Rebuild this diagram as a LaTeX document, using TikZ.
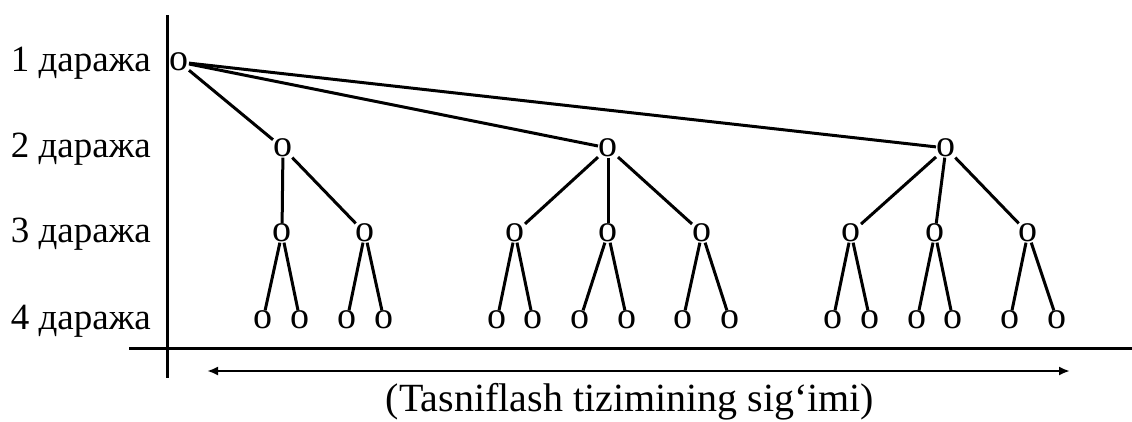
\documentclass[tikz,border=0pt]{standalone}
\usepackage{fontspec}
\setmainfont{Liberation Serif}
\usetikzlibrary{arrows.meta}
\tikzset{
  v/.style={inner sep=0pt, outer sep=0.5pt, font=\fontsize{38}{42}\selectfont},
  lab/.style={anchor=base east, inner sep=0pt, font=\fontsize{37}{42}\selectfont},
  edge/.style={line width=3pt},
  axis/.style={line width=3pt},
}
\begin{document}
\begin{tikzpicture}[x=1pt,y=-1pt]
\useasboundingbox (0,0) rectangle (1132,421);
% axes
\coordinate (vt) at (167,15);
\coordinate (vb) at (167,378);
\coordinate (hl) at (129,348);
\coordinate (hr) at (1132,348);
\draw[axis] (vt) -- (vb);
\draw[axis] (hl) -- (hr);
\coordinate (al) at (207,371);
\coordinate (ar) at (1070,371);
\draw[line width=2.8pt, {Latex[length=11pt,width=9pt]}-{Latex[length=11pt,width=9pt]}] (al) -- (ar);
% labels
\node[lab] (l1) at (151,71) {1 даража};
\node[lab] (l2) at (151,157) {2 даража};
\node[lab] (l3) at (151,242) {3 даража};
\node[lab] (l4) at (151,329) {4 даража};
\node[anchor=base, inner sep=0pt, font=\fontsize{40}{44}\selectfont] (cap) at (630,411) {(Tasniflash tizimining sig‘imi)};
% level 1
\node[v] (r) at (179,62) {o};
% level 2
\node[v] (a) at (283,148) {o};
\node[v] (b) at (608,148) {o};
\node[v] (c) at (946,148) {o};
% level 3
\node[v] (a1) at (282,233) {o};
\node[v] (a2) at (365,233) {o};
\node[v] (b1) at (515,233) {o};
\node[v] (b2) at (608,233) {o};
\node[v] (b3) at (702,233) {o};
\node[v] (c1) at (851,233) {o};
\node[v] (c2) at (935,233) {o};
\node[v] (c3) at (1028,233) {o};
% level 4
\foreach \n/\x in {a11/263,a12/300,a21/347,a22/384,b11/497,b12/533,b21/580,b22/627,b31/683,b32/730,c11/833,c12/870,c21/917,c22/953,c31/1010,c32/1057}
  \node[v] (\n) at (\x,320) {o};
% edges
\foreach \p/\q in {r/a,r/b,r/c,a/a1,a/a2,b/b1,b/b2,b/b3,c/c1,c/c2,c/c3,
  a1/a11,a1/a12,a2/a21,a2/a22,b1/b11,b1/b12,b2/b21,b2/b22,b3/b31,b3/b32,
  c1/c11,c1/c12,c2/c21,c2/c22,c3/c31,c3/c32}
  \draw[edge] (\p) -- (\q);
\end{tikzpicture}
\end{document}
